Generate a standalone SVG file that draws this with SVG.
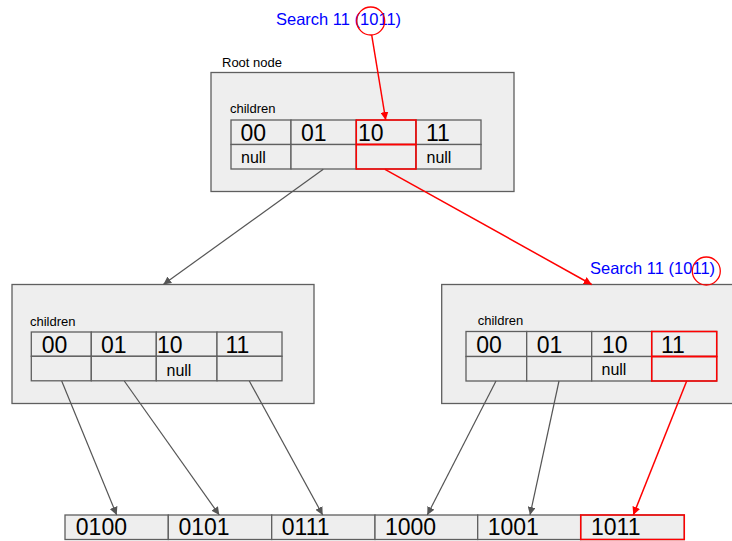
<svg xmlns="http://www.w3.org/2000/svg" width="732" height="541" viewBox="0 0 732 541">
<style>
.box{fill:#eeeeee;stroke:#5f5f5f;stroke-width:1.3}
.cell{fill:#eeeeee;stroke:#5f5f5f;stroke-width:1.3}
.hot{fill:none;stroke:#ff0000;stroke-width:1.5}
.t{font-family:"Liberation Sans",Arial,sans-serif;fill:#000}
.big{font-size:23px}
.nul{font-size:16px}
.lbl{font-size:13px}
.blue{font-family:"Liberation Sans",Arial,sans-serif;font-size:16.5px;fill:#0000ff}
.g{fill:none;stroke:#555555;stroke-width:1.2}
.r{fill:none;stroke:#ff0000;stroke-width:1.5}
.ring{fill:none;stroke:#ff0000;stroke-width:1.3}
</style>
<defs>
<marker id="ag" viewBox="0 0 10 10" refX="10" refY="5" markerWidth="8" markerHeight="8" markerUnits="userSpaceOnUse" orient="auto">
<path d="M0,0 L10,5 L0,10 z" fill="#555555"/>
</marker>
<marker id="ar" viewBox="0 0 10 10" refX="10" refY="5" markerWidth="8" markerHeight="8" markerUnits="userSpaceOnUse" orient="auto">
<path d="M0,0 L10,5 L0,10 z" fill="#ff0000"/>
</marker>
</defs>

<g id="root-node">
<text class="t lbl" x="222" y="67">Root node</text>
<rect class="box" x="211" y="72.5" width="303" height="119"/>
<text class="t lbl" x="230" y="113">children</text>
<rect class="cell" x="231" y="120" width="60" height="24.5"/>
<rect class="cell" x="291" y="120" width="65.3" height="24.5"/>
<rect class="cell" x="356.3" y="120" width="59.7" height="24.5"/>
<rect class="cell" x="416" y="120" width="65" height="24.5"/>
<rect class="cell" x="231" y="144.5" width="60" height="24.5"/>
<rect class="cell" x="291" y="144.5" width="65.3" height="24.5"/>
<rect class="cell" x="356.3" y="144.5" width="59.7" height="24.5"/>
<rect class="cell" x="416" y="144.5" width="65" height="24.5"/>
<rect class="hot" x="356.3" y="120" width="59.7" height="24.5"/>
<rect class="hot" x="356.3" y="144.5" width="59.7" height="24.5"/>
<text class="t big" x="240.5" y="141">00</text>
<text class="t big" x="301" y="141">01</text>
<text class="t big" x="358" y="141">10</text>
<text class="t big" x="426" y="141">11</text>
<text class="t nul" x="241" y="163">null</text>
<text class="t nul" x="426.5" y="163">null</text>
</g>

<g id="search-root">
<text class="blue" x="276" y="25">Search 11 (1011)</text>
<circle class="ring" cx="370.7" cy="21" r="14"/>
</g>

<g id="left-node">
<rect class="box" x="12" y="284.5" width="302" height="119"/>
<text class="t lbl" x="30" y="326">children</text>
<rect class="cell" x="31.3" y="332" width="60" height="24.3"/>
<rect class="cell" x="91.3" y="332" width="65" height="24.3"/>
<rect class="cell" x="156.3" y="332" width="60.7" height="24.3"/>
<rect class="cell" x="217" y="332" width="65" height="24.3"/>
<rect class="cell" x="31.3" y="356.3" width="60" height="24.5"/>
<rect class="cell" x="91.3" y="356.3" width="65" height="24.5"/>
<rect class="cell" x="156.3" y="356.3" width="60.7" height="24.5"/>
<rect class="cell" x="217" y="356.3" width="65" height="24.5"/>
<text class="t big" x="41.7" y="353">00</text>
<text class="t big" x="101" y="353">01</text>
<text class="t big" x="157" y="353">10</text>
<text class="t big" x="225.4" y="353">11</text>
<text class="t nul" x="166.5" y="376">null</text>
</g>

<g id="right-node">
<rect class="box" x="441.7" y="284.5" width="300" height="119"/>
<text class="t lbl" x="477.7" y="325">children</text>
<rect class="cell" x="466" y="331.5" width="60.7" height="25"/>
<rect class="cell" x="526.7" y="331.5" width="65" height="25"/>
<rect class="cell" x="591.7" y="331.5" width="60" height="25"/>
<rect class="cell" x="651.7" y="331.5" width="65" height="25"/>
<rect class="cell" x="466" y="356.5" width="60.7" height="24.5"/>
<rect class="cell" x="526.7" y="356.5" width="65" height="24.5"/>
<rect class="cell" x="591.7" y="356.5" width="60" height="24.5"/>
<rect class="cell" x="651.7" y="356.5" width="65" height="24.5"/>
<rect class="hot" x="651.7" y="331.5" width="65" height="25"/>
<rect class="hot" x="651.7" y="356.5" width="65" height="24.5"/>
<text class="t big" x="476.3" y="353">00</text>
<text class="t big" x="536.7" y="353">01</text>
<text class="t big" x="602" y="353">10</text>
<text class="t big" x="661" y="353">11</text>
<text class="t nul" x="601.5" y="374.5">null</text>
</g>

<g id="search-right">
<text class="blue" x="590" y="274">Search 11 (1011)</text>
<circle class="ring" cx="706.3" cy="271" r="14"/>
</g>

<g id="leaves">
<rect class="cell" x="65" y="515" width="103.3" height="24.5"/>
<rect class="cell" x="168.3" y="515" width="103.4" height="24.5"/>
<rect class="cell" x="271.7" y="515" width="103.3" height="24.5"/>
<rect class="cell" x="375" y="515" width="102.7" height="24.5"/>
<rect class="cell" x="477.7" y="515" width="103" height="24.5"/>
<rect class="cell" x="580.7" y="515" width="103.6" height="24.5"/>
<rect class="hot" x="580.7" y="515" width="103.6" height="24.5"/>
<text class="t big" x="75.8" y="535">0100</text>
<text class="t big" x="178.5" y="535">0101</text>
<text class="t big" x="281.8" y="535">0111</text>
<text class="t big" x="385" y="535">1000</text>
<text class="t big" x="487.7" y="535">1001</text>
<text class="t big" x="591" y="535">1011</text>
</g>

<g id="connectors">
<line class="r" x1="371.7" y1="35" x2="385.7" y2="120" marker-end="url(#ar)"/>
<line class="g" x1="323.3" y1="169.3" x2="163.3" y2="284.5" marker-end="url(#ag)"/>
<line class="r" x1="385" y1="169.3" x2="591.7" y2="284.5" marker-end="url(#ar)"/>
<line class="g" x1="61.7" y1="381" x2="116.7" y2="515" marker-end="url(#ag)"/>
<line class="g" x1="124.3" y1="381" x2="219.3" y2="515" marker-end="url(#ag)"/>
<line class="g" x1="249.3" y1="381" x2="322.7" y2="515" marker-end="url(#ag)"/>
<line class="g" x1="496" y1="381" x2="427.3" y2="515" marker-end="url(#ag)"/>
<line class="g" x1="559" y1="381" x2="530" y2="515" marker-end="url(#ag)"/>
<line class="r" x1="686.7" y1="381" x2="633.3" y2="515" marker-end="url(#ar)"/>
</g>
</svg>
